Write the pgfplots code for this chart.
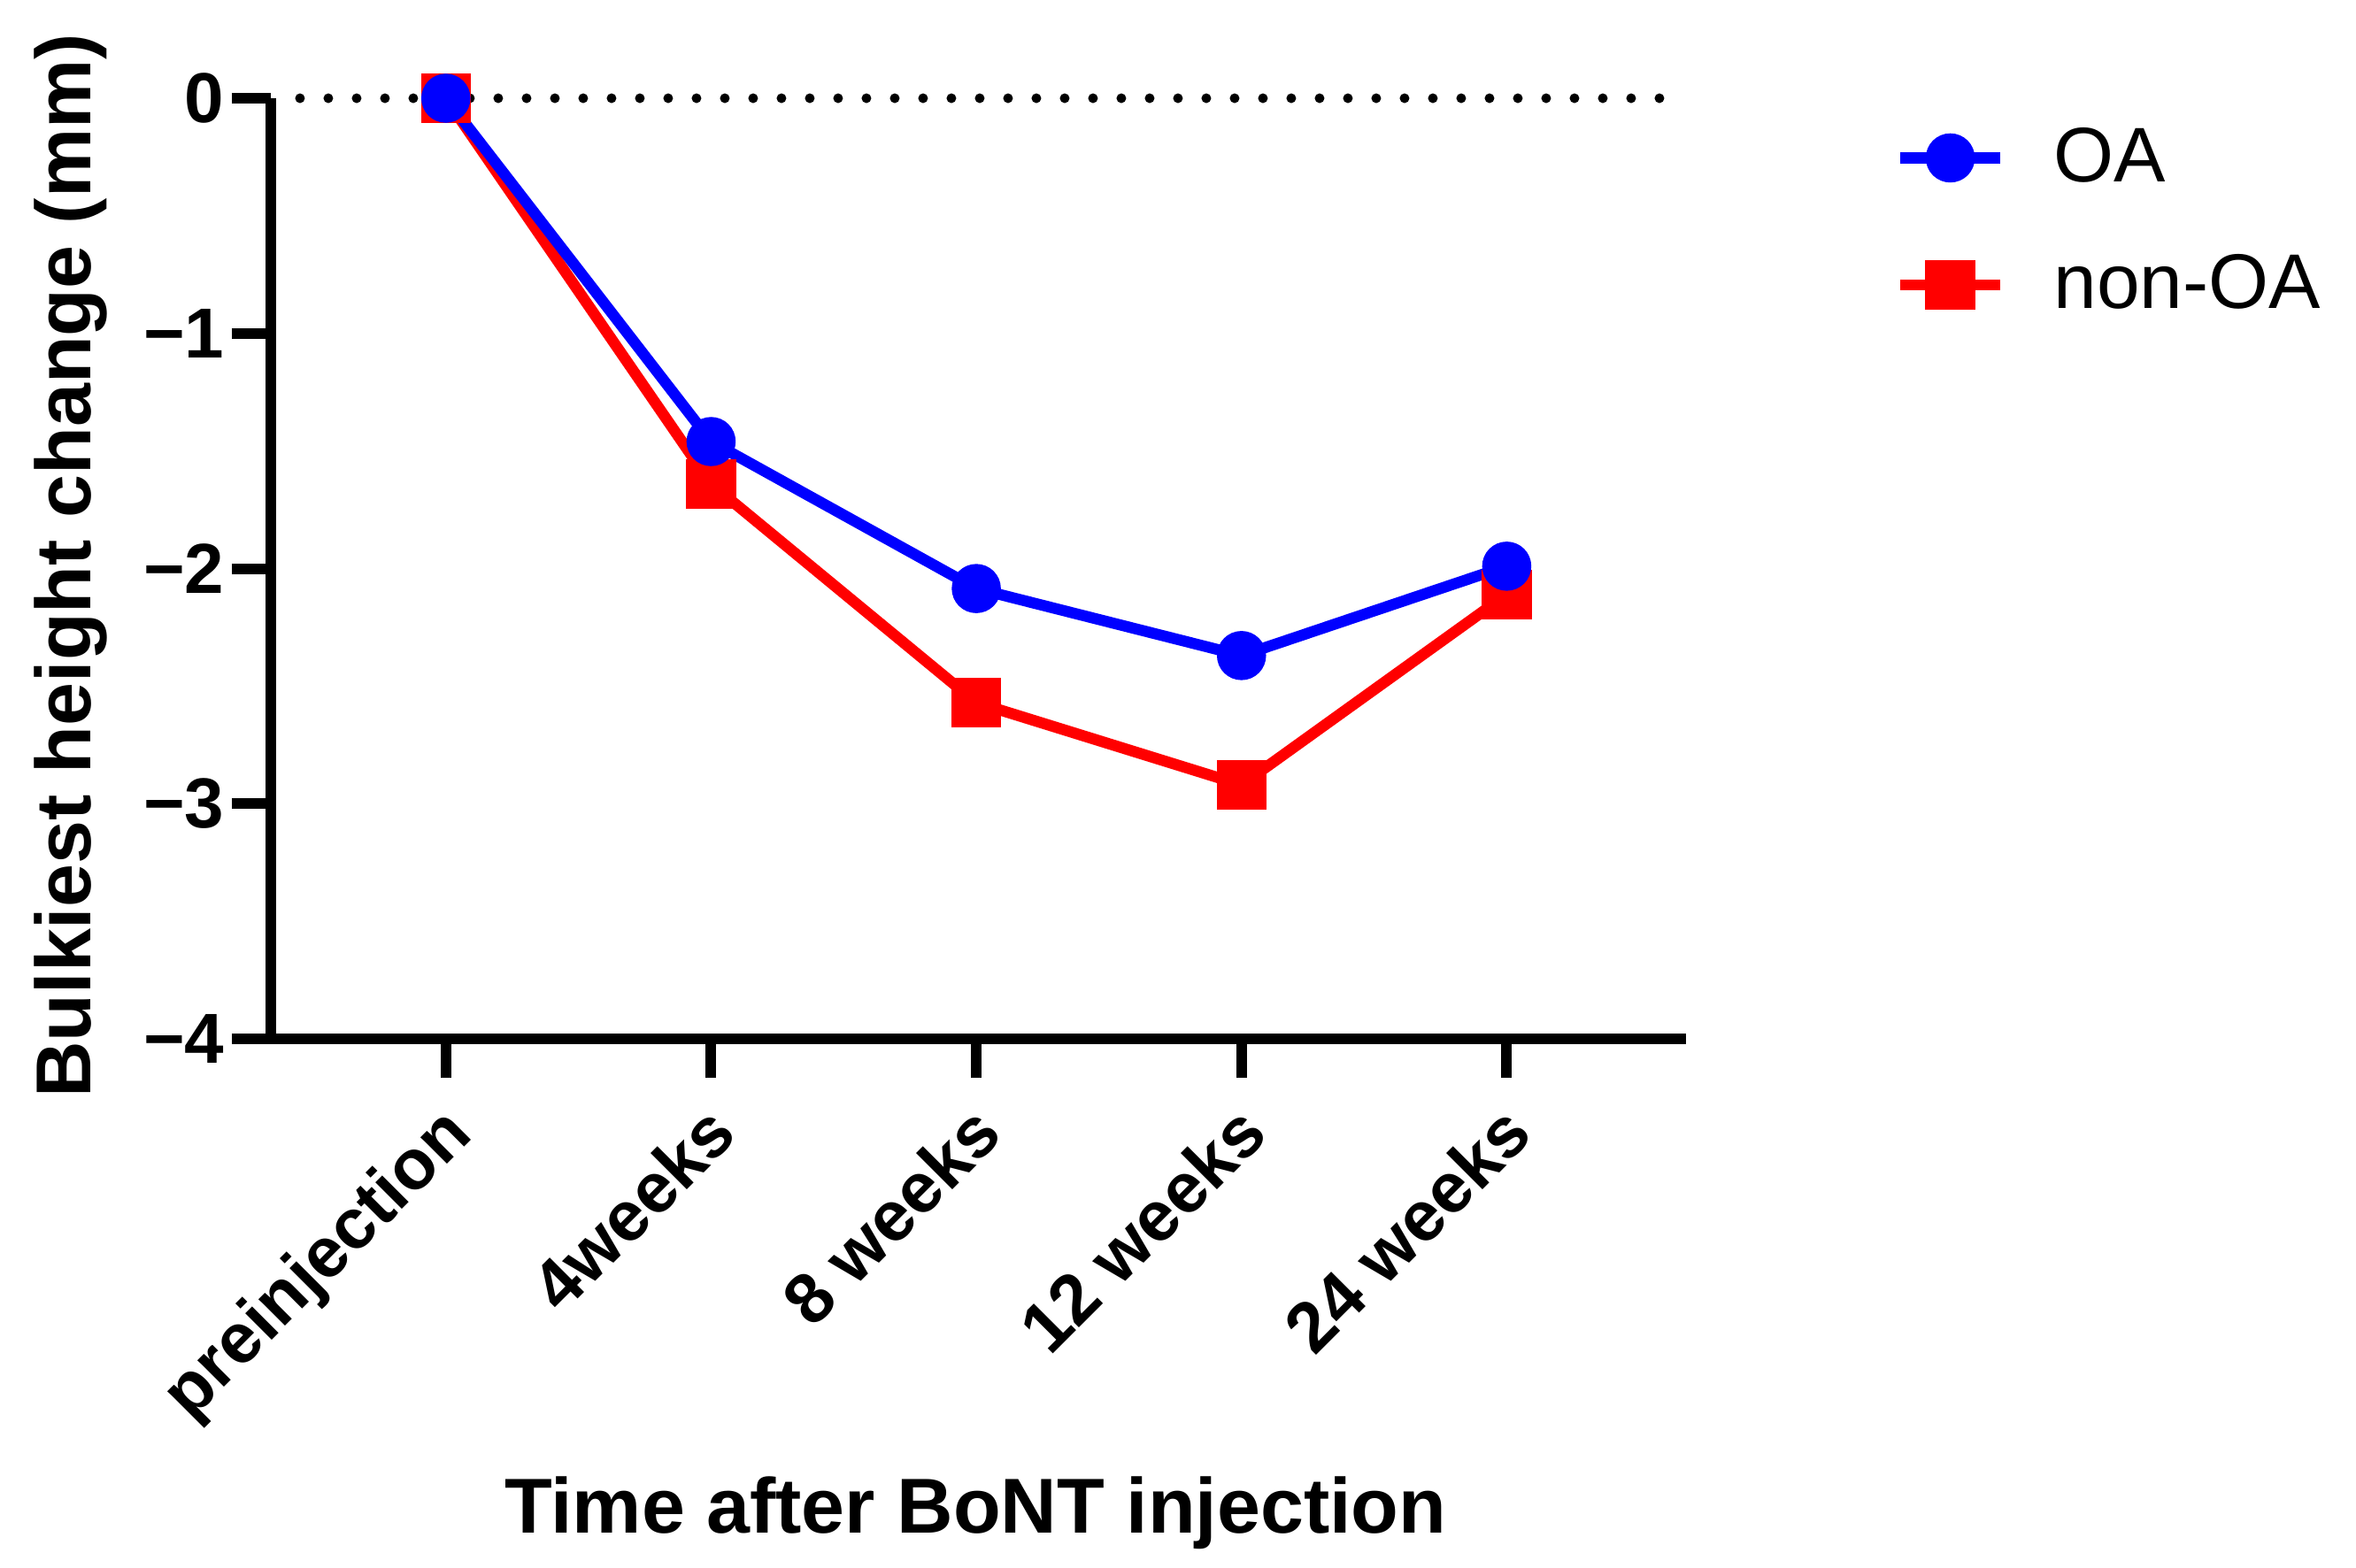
\documentclass[border=0pt]{standalone}
\usepackage{fontspec}
\setmainfont{Liberation Sans}
\usepackage{pgfplots}
\pgfplotsset{compat=1.18}

\definecolor{oablue}{RGB}{0,0,255}
\definecolor{nonred}{RGB}{255,0,0}

\newcommand{\tickfont}{\fontsize{16}{19}\selectfont\bfseries}
\newcommand{\labfont}{\fontsize{17.6}{21}\selectfont\bfseries}

\begin{document}
\begin{tikzpicture}
\begin{axis}[
  scale only axis,
  width=319.8pt, height=212.6pt,
  xmin=-0.66, xmax=4.676,
  ymin=-4, ymax=0,
  clip=false,
  axis lines=left,
  axis line style={line width=2.4pt, -},
  tick align=outside,
  major tick length=8.8pt,
  tick style={line width=2.4pt, black},
  xtick={0,1,2,3,4},
  xticklabels={preinjection,4weeks,8 weeks,12 weeks,24 weeks},
  ytick={-4,-3,-2,-1,0},
  yticklabels={−4,−3,−2,−1,0},
  ticklabel style={font=\tickfont},
  yticklabel style={inner sep=1.5pt},
  xticklabel style={xshift=-1.8pt, yshift=-5pt, rotate=45, anchor=north east, inner sep=0pt},
  xlabel={Time after BoNT injection},
  ylabel={Bulkiest height change (mm)},
  xlabel style={at={(axis description cs:0.498,-0.5256)}, anchor=base, font=\labfont},
  ylabel style={at={(axis description cs:-0.127,0.503)}, anchor=base, font=\labfont},
  legend style={at={(axis description cs:1.1375,0.869)}, anchor=west, draw=none, fill=none,
    font=\fontsize{17.5}{21}\selectfont, row sep=11pt, legend cell align=left,
    /tikz/every odd column/.append style={column sep=8.8pt}},
  legend image code/.code={\draw[#1, mark repeat=2, mark phase=2] plot coordinates {(0pt,0pt) (11.3pt,0pt) (22.6pt,0pt)};},
  reverse legend,
]
\coordinate (O) at (rel axis cs:0,0);

% zero reference line
\addplot[forget plot, black, line width=2.2pt, line cap=round, dash pattern=on 0pt off 6.4pt]
  coordinates {(-0.55,0) (4.59,0)};

\addplot[nonred, line width=2.5pt, mark=square*, mark size=4.4pt, mark options={solid, fill=nonred, draw=none}]
  coordinates {(0,0) (1,-1.64) (2,-2.57) (3,-2.92) (4,-2.11)};
\addlegendentry{non-OA}

\addplot[oablue, line width=2.5pt, mark=*, mark size=4.3pt, mark options={solid, fill=oablue, draw=none}]
  coordinates {(0,0) (1,-1.46) (2,-2.085) (3,-2.37) (4,-1.99)};
\addlegendentry{OA}
\end{axis}
\pgfresetboundingbox
\path (O) ++(-61.2pt,-119.4pt) rectangle ++(532.4pt,354.2pt);
\end{tikzpicture}
\end{document}
